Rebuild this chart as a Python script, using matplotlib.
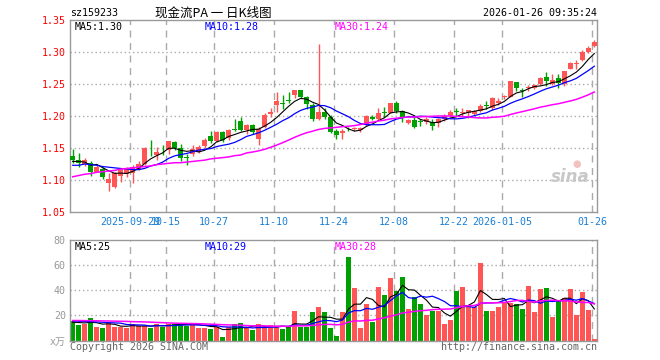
import matplotlib
matplotlib.use('Agg')
import matplotlib.pyplot as plt
import numpy as np
import pandas as pd

plt.rcParams['font.family'] = ['DejaVu Sans Mono', 'Noto Sans CJK SC']

# daily candles, 2025-09-15 .. 2026-01-26
opens = [1.1375, 1.132, 1.125, 1.127, 1.113, 1.117, 1.096, 1.089, 1.106, 1.109,
         1.111, 1.117, 1.125, 1.152, 1.139, 1.144, 1.147, 1.160, 1.150, 1.136,
         1.140, 1.144, 1.153, 1.169, 1.161, 1.175, 1.165, 1.179, 1.192, 1.178,
         1.186, 1.164, 1.183, 1.203, 1.217, 1.220, 1.225, 1.233, 1.241, 1.229,
         1.217, 1.195, 1.207, 1.199, 1.176, 1.173, 1.180, 1.180, 1.178, 1.187,
         1.199, 1.195, 1.207, 1.205, 1.220, 1.208, 1.189, 1.193, 1.192, 1.190,
         1.191, 1.189, 1.195, 1.200, 1.207, 1.205, 1.204, 1.203, 1.208, 1.217,
         1.212, 1.221, 1.229, 1.230, 1.253, 1.240, 1.243, 1.243, 1.250, 1.261,
         1.250, 1.260, 1.250, 1.274, 1.281, 1.287, 1.300, 1.309]
highs = [1.148, 1.142, 1.134, 1.129, 1.124, 1.120, 1.111, 1.113, 1.118, 1.121,
         1.124, 1.129, 1.151, 1.163, 1.151, 1.154, 1.161, 1.161, 1.156, 1.141,
         1.155, 1.155, 1.165, 1.177, 1.176, 1.177, 1.180, 1.196, 1.199, 1.188,
         1.188, 1.183, 1.205, 1.212, 1.237, 1.233, 1.238, 1.241, 1.241, 1.232,
         1.221, 1.312, 1.212, 1.201, 1.180, 1.180, 1.183, 1.183, 1.183, 1.202,
         1.201, 1.213, 1.214, 1.221, 1.223, 1.209, 1.196, 1.200, 1.196, 1.199,
         1.196, 1.197, 1.203, 1.210, 1.212, 1.212, 1.210, 1.209, 1.218, 1.223,
         1.230, 1.228, 1.233, 1.255, 1.253, 1.243, 1.248, 1.250, 1.261, 1.269,
         1.265, 1.265, 1.271, 1.285, 1.287, 1.303, 1.309, 1.318]
lows = [1.126, 1.121, 1.122, 1.107, 1.112, 1.101, 1.083, 1.088, 1.097, 1.105,
        1.096, 1.115, 1.124, 1.138, 1.131, 1.139, 1.140, 1.147, 1.130, 1.124,
        1.137, 1.142, 1.150, 1.158, 1.159, 1.159, 1.163, 1.176, 1.176, 1.172,
        1.172, 1.154, 1.181, 1.198, 1.206, 1.211, 1.220, 1.228, 1.228, 1.211,
        1.192, 1.193, 1.196, 1.174, 1.164, 1.164, 1.176, 1.176, 1.175, 1.184,
        1.193, 1.194, 1.199, 1.204, 1.205, 1.190, 1.188, 1.182, 1.184, 1.188,
        1.178, 1.183, 1.192, 1.199, 1.200, 1.200, 1.197, 1.201, 1.206, 1.211,
        1.210, 1.217, 1.226, 1.229, 1.239, 1.230, 1.239, 1.242, 1.248, 1.247,
        1.249, 1.243, 1.247, 1.274, 1.274, 1.286, 1.298, 1.308]
closes = [1.131, 1.126, 1.131, 1.113, 1.121, 1.105, 1.102, 1.111, 1.115, 1.118,
          1.121, 1.125, 1.150, 1.151, 1.143, 1.143, 1.161, 1.150, 1.135, 1.135,
          1.148, 1.151, 1.163, 1.161, 1.175, 1.163, 1.178, 1.178, 1.178, 1.186,
          1.175, 1.180, 1.202, 1.207, 1.223, 1.219, 1.224, 1.241, 1.230, 1.218,
          1.195, 1.206, 1.199, 1.175, 1.170, 1.176, 1.179, 1.182, 1.182, 1.200,
          1.195, 1.205, 1.204, 1.220, 1.208, 1.198, 1.193, 1.183, 1.191, 1.196,
          1.185, 1.196, 1.200, 1.207, 1.206, 1.207, 1.209, 1.208, 1.216, 1.216,
          1.228, 1.223, 1.231, 1.254, 1.244, 1.239, 1.245, 1.248, 1.259, 1.254,
          1.256, 1.251, 1.270, 1.283, 1.283, 1.300, 1.306, 1.316]
# volume, x10k
vols = [15.9, 12.5, 13.2, 18.3, 10.9, 10.3, 13.8, 11.1, 11.1, 10.3,
        13.2, 11.7, 11.7, 10.3, 13.5, 11.1, 13.5, 13.0, 13.8, 11.9,
        13.8, 10.3, 10.3, 9.5, 11.0, 2.4, 11.0, 13.2, 14.0, 10.0,
        8.5, 13.2, 10.8, 12.5, 11.0, 9.3, 10.6, 23.6, 11.1, 10.6,
        22.3, 26.8, 22.3, 10.3, 3.2, 22.3, 66.8, 42.1, 10.3, 29.2,
        15.1, 42.9, 36.3, 50.1, 39.5, 50.9, 25.2, 35.0, 29.2, 20.4,
        23.1, 23.6, 13.3, 16.4, 39.5, 42.9, 27.6, 27.0, 62.0, 23.6,
        23.6, 27.0, 31.0, 30.0, 29.2, 25.2, 43.5, 22.3, 41.1, 42.0,
        19.1, 31.8, 34.2, 41.0, 20.4, 39.0, 23.9, 1.3]

# moving averages at the left edge need days before the window
ma5_head = [1.129, 1.129, 1.128, 1.123]
ma10_head = [1.123, 1.123, 1.125, 1.124, 1.123, 1.121, 1.120, 1.119, 1.118]
ma30_head = [1.105, 1.107, 1.109, 1.110, 1.112, 1.113, 1.114, 1.115, 1.117, 1.118,
             1.119, 1.120, 1.121, 1.122, 1.124, 1.125, 1.126, 1.127, 1.127, 1.128,
             1.129, 1.130, 1.131, 1.133, 1.134, 1.135, 1.136, 1.138, 1.139]
vma5_head = [14.5, 14.3, 14.0, 14.5]
vma10_head = [15.5, 15.3, 15.1, 15.0, 14.8, 14.5, 14.2, 14.0, 13.8]
vma30_head = [15.9, 15.9, 15.8, 15.8, 15.7, 15.6, 15.5, 15.4, 15.3, 15.2,
              15.0, 14.9, 14.8, 14.6, 14.4, 14.2, 14.0, 13.8, 13.7, 13.6,
              13.5, 13.4, 13.2, 13.0, 12.8, 12.6, 12.4, 12.3, 12.2]

# legend texts as printed on the chart
price_legend = ['MA5:1.30', 'MA10:1.28', 'MA30:1.24']
vol_legend = ['MA5:25', 'MA10:29', 'MA30:28']

tick_idx = [10, 16, 24, 34, 44, 54, 64, 72, 87]
tick_labels = ['2025-09-29', '10-15', '10-27', '11-10', '11-24', '12-08',
               '12-22', '2026-01-05', '01-26']
price_ticks = [1.05, 1.10, 1.15, 1.20, 1.25, 1.30, 1.35]
vol_ticks = [0, 20, 40, 60, 80]
vol_tick_labels = ['x万', '20', '40', '60', '80']

UP = '#ff5555'
DOWN = '#00a000'
GRID = '#aaaaaa'
FRAME = '#999999'
MA_COLORS = ['black', '#0000ff', '#ff00ff']
MA_WIDTHS = [0.8, 0.9, 1.1]
W, H = 660, 360


def moving_avg(values, n, head):
    ma = pd.Series(values).rolling(n).mean()
    ma.iloc[:len(head)] = head
    return ma.values


def px_axes(fig, left, top, right, bottom):
    return fig.add_axes([left / W, 1 - bottom / H, (right - left) / W, (bottom - top) / H])


def legend(a, texts, height):
    for k, (txt, col) in enumerate(zip(texts, MA_COLORS)):
        a.text((5 + 130 * k) / 527, 1 - 7 / height, txt, transform=a.transAxes,
               fontsize=7.2, color=col, va='center')


def main():
    o = np.array(opens)
    c = np.array(closes)
    x = np.arange(len(o))
    up = c >= o
    colors = np.where(up, UP, DOWN)

    fig = plt.figure(figsize=(W / 100, H / 100), dpi=100)
    fig.patch.set_facecolor('white')

    ax = px_axes(fig, 70, 20, 597, 212)
    av = px_axes(fig, 70, 240, 597, 340.5)

    for a in (ax, av):
        a.set_xlim(-0.45, len(o) - 0.55)
        for s in a.spines.values():
            s.set_color(FRAME)
            s.set_linewidth(1.0)
        for t in tick_idx:
            a.axvline(t - 0.4, color=GRID, lw=1.0, ls=(0, (5, 4)), zorder=0)
        a.tick_params(length=0)

    # price panel
    ax.set_ylim(1.05, 1.35)
    for p in price_ticks[1:-1]:
        ax.axhline(p, color=GRID, lw=1.0, ls=(0, (1, 2)), zorder=0)
    ax.vlines(x, lows, highs, colors=colors, lw=1.0, zorder=2)
    body = np.maximum(np.abs(c - o), 0.0012)
    ax.bar(x, body, bottom=np.minimum(o, c), width=0.8, color=colors, lw=0, zorder=3)

    for n, head, col, lw in zip([5, 10, 30], [ma5_head, ma10_head, ma30_head],
                                MA_COLORS, MA_WIDTHS):
        ax.plot(x, moving_avg(closes, n, head), color=col, lw=lw, zorder=4)

    ax.set_yticks(price_ticks)
    ax.set_yticklabels(['%.2f' % p for p in price_ticks], color='#ff0000', fontsize=7.2)
    ax.tick_params(axis='y', pad=3)
    ax.set_xticks([t - 0.4 for t in tick_idx])
    ax.set_xticklabels(tick_labels, color='#1b7fd3', fontsize=7.2)
    ax.tick_params(axis='x', pad=3.5)
    legend(ax, price_legend, 192)

    ax.text(0.985, 0.18, 'sina', transform=ax.transAxes, ha='right', va='center',
            fontsize=12, fontweight='bold', style='italic', color='#c8c8c8',
            family='DejaVu Sans', zorder=1)
    ax.text(0.962, 0.25, '●', transform=ax.transAxes, ha='center', va='center',
            fontsize=7, color='#f4c0c0', family='DejaVu Sans', zorder=1)

    # volume panel
    av.set_ylim(0, 80)
    for v in vol_ticks[1:-1]:
        av.axhline(v, color=GRID, lw=1.0, ls=(0, (1, 2)), zorder=0)
    av.bar(x, vols, width=0.8, color=colors, lw=0, zorder=2)
    for n, head, col, lw in zip([5, 10, 30], [vma5_head, vma10_head, vma30_head],
                                MA_COLORS, MA_WIDTHS):
        av.plot(x, moving_avg(vols, n, head), color=col, lw=lw, zorder=3)
    av.set_yticks(vol_ticks)
    av.set_yticklabels(vol_tick_labels, color='#999999', fontsize=7.2)
    av.tick_params(axis='y', pad=3)
    av.set_xticks([])
    legend(av, vol_legend, 100.5)

    # header / footer
    fig.text(70 / W, 1 - 13 / H, 'sz159233', fontsize=7.2, va='center', color='black')
    fig.text(213 / W, 1 - 13 / H, '现金流PA 一 日K线图', fontsize=9, va='center',
             ha='center', color='black', family=['Noto Sans CJK SC', 'DejaVu Sans'])
    fig.text(597 / W, 1 - 13 / H, '2026-01-26 09:35:24', fontsize=7.2, va='center',
             ha='right', color='black')
    fig.text(70 / W, 1 - 347 / H, 'Copyright 2026 SINA.COM', fontsize=7.2, va='center',
             color='#666666')
    fig.text(597 / W, 1 - 347 / H, 'http://finance.sina.com.cn', fontsize=7.2,
             va='center', ha='right', color='#666666')

    fig.savefig('out.png', dpi=100, facecolor='white')


if __name__ == '__main__':
    main()
